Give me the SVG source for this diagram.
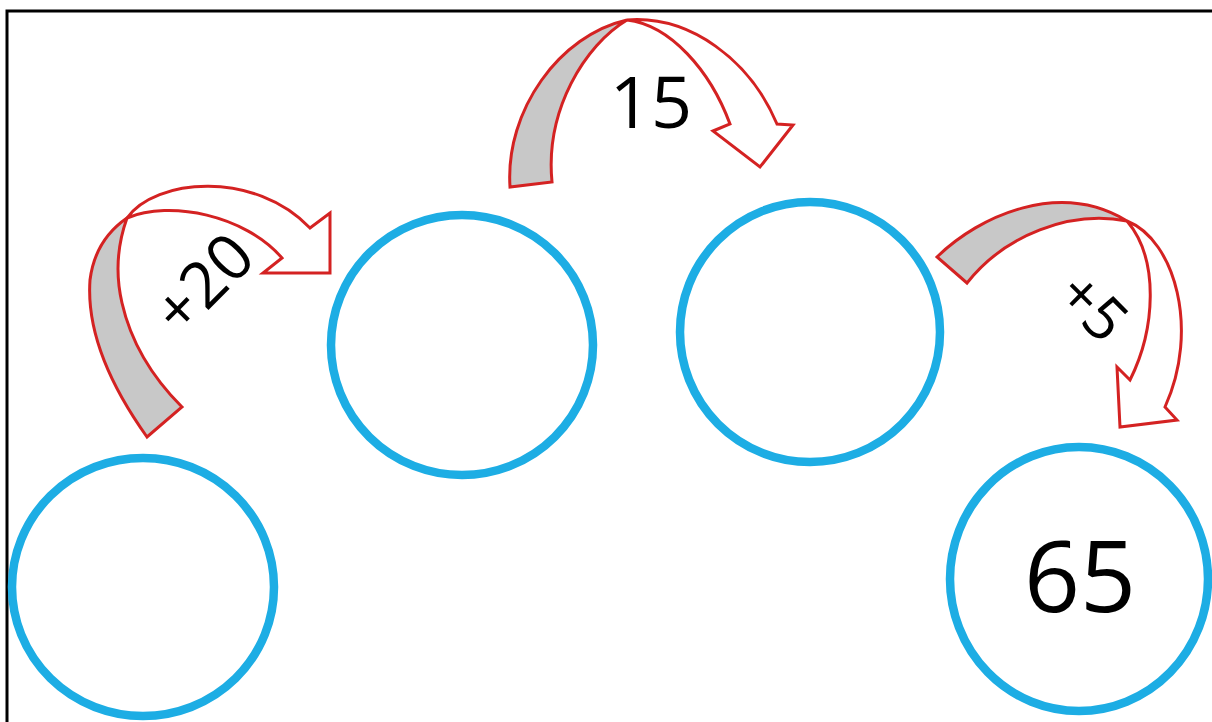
<svg xmlns="http://www.w3.org/2000/svg" width="1212" height="722" viewBox="0 0 1212 722">
<style>
.c{fill:none;stroke:#1dade4;stroke-width:8.5}
.g{fill:#c8c8c8;stroke:#d42222;stroke-width:3;stroke-linejoin:miter}
.w{fill:#fff;stroke:#d42222;stroke-width:3;stroke-linejoin:miter}
.t{font-family:"Open Sans","Liberation Sans",Arial,sans-serif;fill:#000;text-anchor:middle}
</style>
<rect width="1212" height="722" fill="#fff"/>
<path d="M7,722 V11 H1212" fill="none" stroke="#000" stroke-width="3"/>
<g id="node1"><ellipse class="c" cx="143" cy="587" rx="131" ry="129"/></g>
<g id="node2"><ellipse class="c" cx="462" cy="345" rx="131" ry="130"/></g>
<g id="node3"><ellipse class="c" cx="810" cy="332" rx="130" ry="130"/></g>
<g id="node4"><ellipse class="c" cx="1079" cy="579" rx="129" ry="132"/>
<text class="t" x="1080" y="612" font-size="98">65</text></g>
<g id="connectors">
<g id="arrow1">
<path class="g" d="M147,437 Q85,350 90,280 Q95,240 127,218 Q112,260 122,303 Q135,360 182,407 Z"/>
<path class="w" d="M127,218 C155,178 255,170 310,228 L330,213 L330,273 L263,273 L282,258 C245,215 170,200 127,218 Z"/>
<text class="t" font-size="64" transform="translate(203,283) rotate(-45)" y="23">+20</text>
</g>
<g id="arrow2">
<path class="g" d="M510,187 C505,110 560,35 627,20 C585,45 545,110 552,182 Z"/>
<path class="w" d="M627,20 C690,15 750,60 777,124 L793,125 L760,167 L713,131 L730,124 C710,70 670,25 627,20 Z"/>
<text class="t" x="651" y="128" font-size="72">15</text>
</g>
<g id="arrow3">
<path class="g" d="M937,257 C980,215 1060,180 1127,221 C1070,210 1005,235 967,283 Z"/>
<path class="w" d="M1127,221 C1175,240 1200,330 1165,407 L1177,420 L1120,427 L1117,367 L1130,380 C1155,330 1160,260 1127,221 Z"/>
<text class="t" font-size="60" transform="translate(1093,307) rotate(45)" y="21">+5</text>
</g>
</g>
</svg>
